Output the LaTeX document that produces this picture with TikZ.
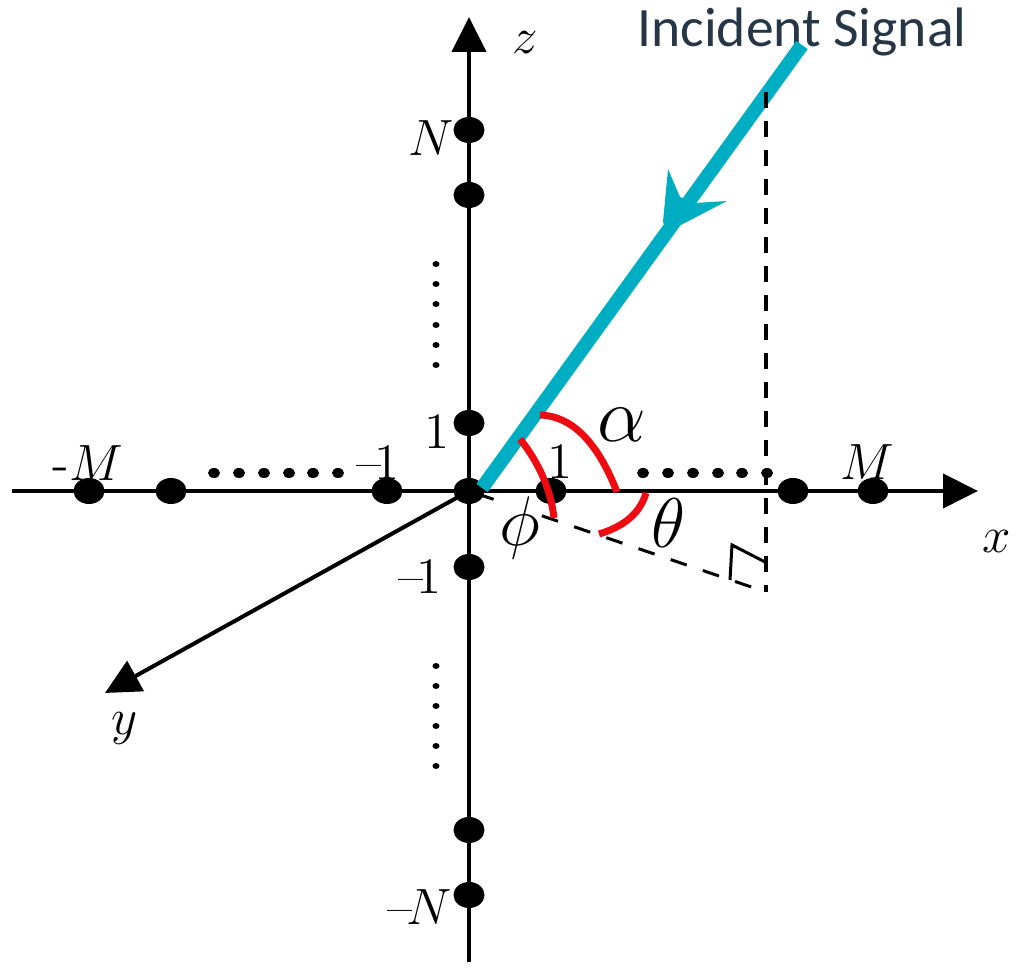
\RequirePackage{fix-cm}
\documentclass[tikz,border=0pt]{standalone}
\usepackage{fontspec}
\newfontfamily\signalfont{Carlito}
\usepackage{xcolor}
\usetikzlibrary{positioning}
\usetikzlibrary{arrows, arrows.meta}
\usetikzlibrary{shapes.geometric}
\definecolor{signalblue}{HTML}{00AEC3}
\definecolor{signaltext}{HTML}{253746}
\definecolor{arcred}{HTML}{EE0C12}
\newcommand{\unitpx}{*0.01cm}
\newcommand{\shortminus}{\mbox{--}\kern-.12em}
\tikzset{
  elem/.style={ellipse, fill=black, inner sep=0pt, minimum width=31\unitpx, minimum height=26\unitpx},
  axis/.style={line width=4\unitpx, -{Triangle[length=35\unitpx, width=34\unitpx]}},
  dotrow/.style={ellipse, fill=black, inner sep=0pt, minimum width=12\unitpx, minimum height=10\unitpx},
  dotcol/.style={ellipse, fill=black, inner sep=0pt, minimum width=7\unitpx, minimum height=6\unitpx},
  dashline/.style={line width=4\unitpx, dash pattern=on 16\unitpx off 13\unitpx},
  arcline/.style={draw=arcred, line width=7\unitpx},
  lab/.style={inner sep=0pt, font=\fontsize{14.5}{16}\selectfont},
  greek/.style={inner sep=0pt, font=\fontsize{20}{22}\selectfont}
}
\begin{document}
\begin{tikzpicture}[x=0.01cm, y=-0.01cm]
  \useasboundingbox (0,0) rectangle (1024,980);

  \coordinate (origin) at (469,491);
  \coordinate (x_start) at (12,491);
  \coordinate (x_end) at (978,491);
  \coordinate (z_start) at (469,962);
  \coordinate (z_end) at (469,17);
  \coordinate (y_end) at (105,693);
  \coordinate (top_drop) at (766,92);
  \coordinate (foot) at (766,592);

  % projection on the ground
  \draw[line width=3\unitpx, dash pattern=on 17\unitpx off 17\unitpx, dash phase=25\unitpx] (origin) -- (foot);
  \node[greek, fill=white] (phi_label) at (520,528) {$\phi$};

  % axes
  \draw[axis] (x_start) -- (x_end);
  \draw[axis] (z_start) -- (z_end);
  \draw[axis] (origin) -- (y_end);

  % array elements
  \node[elem] (origin_elem) at (origin) {};
  \foreach \pos in {89,171,387,551,793,873} {
    \node[elem] (x_\pos) at (\pos,491) {};
  }
  \foreach \pos in {130,195,423,567,830,895} {
    \node[elem] (z_\pos) at (469,\pos) {};
  }

  % dotted gaps
  \foreach \pos in {214,239,264,289,313,338} {
    \node[dotrow] (dl_\pos) at (\pos,473) {};
  }
  \foreach \pos in {643,668,693,718,742,767} {
    \node[dotrow] (dr_\pos) at (\pos,473) {};
  }
  \foreach \pos in {264,284,304,325,345,365} {
    \node[dotcol] (du_\pos) at (436,\pos) {};
  }
  \foreach \pos in {666,686,706,726,746,766} {
    \node[dotcol] (dd_\pos) at (436,\pos) {};
  }

  % incident signal
  \node[inner sep=0pt, text=signaltext, font=\signalfont\fontsize{15.8}{18}\selectfont] (sig_label) at (802,32) {Incident Signal};
  \coordinate (sig_start) at (802,45);
  \coordinate (sig_end) at (482,488);
  \draw[signalblue, line width=14\unitpx] (sig_start) -- (sig_end);
  \fill[signalblue] (668,169) -- (680,197) -- (695,203) -- (727,201) -- (677,227)
    -- (668,235) -- (663,222) -- cycle;
  \draw[dashline] (top_drop) -- (foot);

  % angles
  \draw[arcline] (540,415) .. controls (571.7,416) and (597.3,441.7) .. (617,492);
  \draw[arcline] (520,439) .. controls (539.3,463.3) and (550.7,489.7) .. (554,518);
  \draw[arcline] (646,493) .. controls (640.3,512.7) and (624.7,526.3) .. (599,534);

  % right angle
  \draw[line width=3\unitpx] (730,580) -- (732,545) -- (765,562);

  % labels
  \node[lab] (z_label) at (525,43) {$z$};
  \node[lab] (x_label) at (997,542) {$x$};
  \node[lab] (y_label) at (125,728) {$y$};
  \node[lab] (n_label) at (431,138) {$N$};
  \node[lab] (mn_label) at (420,907) {\shortminus$N$};
  \node[lab] (mm_label) at (88,463) {-$M$};
  \node[lab] (m_label) at (867,462) {$M$};
  \node[lab] (z1_label) at (437,432) {$1$};
  \node[lab] (zm1_label) at (420,577) {\shortminus$1$};
  \node[lab] (xm1_label) at (378,463) {\shortminus$1$};
  \node[lab] (x1_label) at (560,462) {$1$};
  \node[greek, font=\fontsize{22}{24}\selectfont] (alpha_label) at (622,425) {$\alpha$};
  \node[greek] (theta_label) at (668,523) {$\theta$};
\end{tikzpicture}
\end{document}
